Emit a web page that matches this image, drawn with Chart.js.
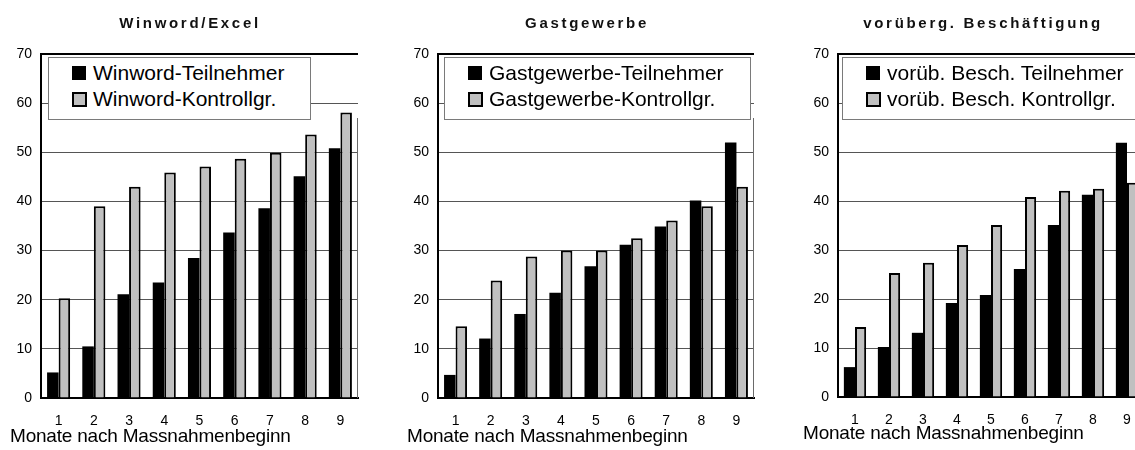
<!DOCTYPE html>
<html>
<head>
<meta charset="utf-8">
<script src="https://cdn.jsdelivr.net/npm/chart.js@4/dist/chart.umd.min.js"></script>
<style>
  html, body { margin:0; padding:0; background:#fff; }
  body { width:1135px; height:450px; overflow:hidden; position:relative; font-family:"Liberation Sans", Arial, sans-serif; }
  .box { position:absolute; top:0; height:450px; }
  .title { position:absolute; top:14px; width:320px; text-align:center; font-weight:bold; font-size:15px; line-height:18px; letter-spacing:2.7px; color:#111; white-space:nowrap; }
  .xtitle { position:absolute; font-size:19px; line-height:19px; letter-spacing:-0.2px; color:#000; white-space:nowrap; }
  .legend { position:absolute; top:57px; height:63px; box-sizing:border-box; border:1px solid #7a7a7a; background:#fff; }
  .legend .mk { position:absolute; left:23px; width:14px; height:14px; box-sizing:border-box; }
  .legend .tx { position:absolute; left:44px; font-size:21px; line-height:24px; color:#000; white-space:nowrap; }
</style>
</head>
<body>
<script>
// ---- data ----
const months = ["1","2","3","4","5","6","7","8","9"];
const yTicks = [0,10,20,30,40,50,60,70];

const titles = ["Winword/Excel", "Gastgewerbe", "vorüberg. Beschäftigung"];
const xTitle = "Monate nach Massnahmenbeginn";

const winwordLabels = ["Winword-Teilnehmer", "Winword-Kontrollgr."];
const winwordTeil   = [5.2, 10.5, 21.1, 23.5, 28.5, 33.7, 38.6, 45.1, 50.8];
const winwordKontr  = [20.3, 39.0, 43.0, 45.9, 47.1, 48.7, 49.9, 53.6, 58.1];

const gastLabels = ["Gastgewerbe-Teilnehmer", "Gastgewerbe-Kontrollgr."];
const gastTeil   = [4.7, 12.1, 17.1, 21.4, 26.8, 31.2, 34.9, 40.2, 52.0];
const gastKontr  = [14.6, 23.9, 28.8, 30.0, 30.0, 32.5, 36.1, 39.0, 43.0];

const vorLabels = ["vorüb. Besch. Teilnehmer", "vorüb. Besch. Kontrollgr."];
const vorTeil   = [6.1, 10.2, 13.1, 19.2, 20.8, 26.1, 35.1, 41.3, 51.9];
const vorKontr  = [14.3, 25.3, 27.4, 31.0, 35.1, 40.8, 42.1, 42.5, 43.7];

// ---- layout (positions/styles) ----
const panels = [
  { labels: winwordLabels, teil: winwordTeil, kontr: winwordKontr, title: titles[0],
    left:0, width:370, yW:41, pad:{left:0,right:12,top:54,bottom:17},
    titleC:190, legL:48, legW:263, xtL:10, xtT:426 },
  { labels: gastLabels, teil: gastTeil, kontr: gastKontr, title: titles[1],
    left:380, width:380, yW:58, pad:{left:0,right:6,top:54,bottom:17},
    titleC:587, legL:444, legW:307, xtL:407, xtT:426 },
  { labels: vorLabels, teil: vorTeil, kontr: vorKontr, title: titles[2],
    left:760, width:400, yW:78, pad:{left:0,right:16,top:54,bottom:18},
    titleC:983, legL:842, legW:320, xtL:803, xtT:423 }
];

const BLACK = "#000000", GREY = "#c0c0c0";

const rightBorder = {
  id: "rightBorder",
  afterDraw(chart, args, opts) {
    const a = chart.chartArea, ctx = chart.ctx;
    ctx.save();
    ctx.strokeStyle = "#6a6a6a";
    ctx.lineWidth = 1;
    ctx.beginPath();
    ctx.moveTo(Math.round(a.right) - 0.5, opts.fromY);
    ctx.lineTo(Math.round(a.right) - 0.5, a.bottom);
    ctx.stroke();
    ctx.restore();
  }
};

panels.forEach(p => {
  const box = document.createElement("div");
  box.className = "box";
  box.style.left = p.left + "px";
  box.style.width = p.width + "px";
  const cv = document.createElement("canvas");
  cv.width = p.width; cv.height = 450;
  cv.style.width = p.width + "px"; cv.style.height = "450px";
  box.appendChild(cv);
  document.body.appendChild(box);

  const chart = new Chart(cv.getContext("2d"), {
    type: "bar",
    data: {
      labels: months,
      datasets: [
        { label: p.labels[0], data: p.teil, backgroundColor: BLACK, borderColor: BLACK, borderWidth: 0 },
        { label: p.labels[1], data: p.kontr, backgroundColor: GREY, borderColor: BLACK, borderWidth: 2 }
      ]
    },
    options: {
      responsive: false,
      animation: false,
      devicePixelRatio: 1,
      layout: { padding: p.pad },
      datasets: { bar: { categoryPercentage: 0.655, barPercentage: 1.0 } },
      plugins: {
        legend: { display: false },
        title: { display: false },
        tooltip: { enabled: false },
        rightBorder: { fromY: 118 }
      },
      scales: {
        x: {
          grid: { display: false },
          border: { display: true, color: "#000", width: 2 },
          ticks: { color: "#000", font: { family: "Liberation Sans, Arial", size: 14 }, padding: 7, maxRotation: 0 },
          afterFit(s) { s.height = 35; }
        },
        y: {
          min: yTicks[0], max: yTicks[yTicks.length - 1],
          afterBuildTicks(s) { s.ticks = yTicks.map(v => ({ value: v })); },
          grid: {
            drawTicks: false,
            color: c => (c.tick && c.tick.value === 70) ? "#000" : "#555",
            lineWidth: c => (c.tick && c.tick.value === 70) ? 2 : 1
          },
          border: { display: true, color: "#000", width: 2 },
          ticks: { color: "#000", font: { family: "Liberation Sans, Arial", size: 14 }, padding: 9 },
          afterFit(s) { s.width = p.yW; }
        }
      }
    },
    plugins: [rightBorder]
  });

  // title
  const t = document.createElement("div");
  t.className = "title";
  t.textContent = p.title;
  t.style.left = (p.titleC - 160) + "px";
  document.body.appendChild(t);

  // legend (built from the datasets)
  const lg = document.createElement("div");
  lg.className = "legend";
  lg.style.left = p.legL + "px";
  lg.style.width = p.legW + "px";
  chart.data.datasets.forEach((ds, i) => {
    const mk = document.createElement("div");
    mk.className = "mk";
    mk.style.top = (i === 0 ? 8 : 34) + "px";
    mk.style.background = ds.backgroundColor;
    if (ds.borderWidth) { mk.style.border = "2px solid " + ds.borderColor; mk.style.width = "15px"; mk.style.height = "15px"; }
    const tx = document.createElement("div");
    tx.className = "tx";
    tx.style.top = (i === 0 ? 3 : 29) + "px";
    tx.textContent = ds.label;
    lg.appendChild(mk); lg.appendChild(tx);
  });
  document.body.appendChild(lg);

  // x axis title
  const xt = document.createElement("div");
  xt.className = "xtitle";
  xt.textContent = xTitle;
  xt.style.left = p.xtL + "px";
  xt.style.top = p.xtT + "px";
  document.body.appendChild(xt);
});
</script>
</body>
</html>
